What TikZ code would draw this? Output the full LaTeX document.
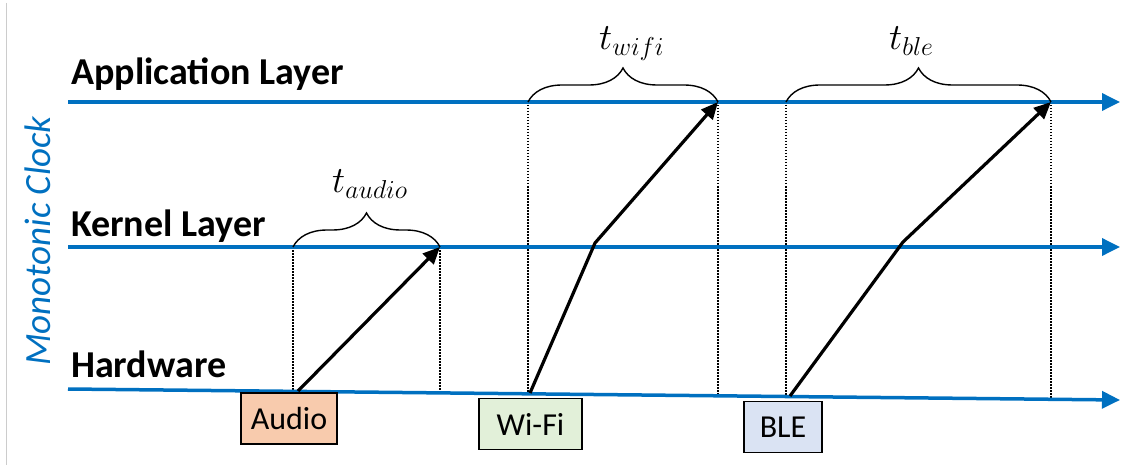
\documentclass[tikz,border=0pt]{standalone}
\usepackage{fix-cm}
\usepackage{fontspec}
\setmainfont{Carlito}
\usetikzlibrary{arrows.meta,decorations.pathreplacing}
\definecolor{clockblue}{HTML}{0070C0}
\definecolor{audiofill}{HTML}{F8CBAD}
\definecolor{wififill}{HTML}{E2F0D9}
\definecolor{blefill}{HTML}{DAE3F3}

\begin{document}
\begin{tikzpicture}[x=1pt,y=-1pt,
        layer/.style={anchor=base west, inner sep=0pt, font=\fontsize{38}{44}\selectfont\bfseries},
        timeline/.style={draw=clockblue, line width=3.5pt, -{Triangle[length=18pt,width=17pt]}},
        hop/.style={line width=3.2pt, -{Triangle[length=17pt,width=15pt]}},
        guide/.style={line width=1.3pt, dash pattern=on 1.5pt off 1.5pt},
        span/.style={decorate, decoration={brace, amplitude=34pt}, line width=1.4pt},
        delay/.style={anchor=base west, inner sep=0pt, font=\fontsize{37}{43}\selectfont},
        device/.style={draw, line width=1.3pt, inner sep=0pt, minimum height=51pt, font=\fontsize{32}{38}\selectfont}]
        \useasboundingbox (0,0) rectangle (1121,465);
        \draw[gray!40, line width=1pt] (6,3) -- (6,465);

        % layers
        \node (applabel) [layer] at (71,85) {Application Layer};
        \node (kernlabel) [layer] at (71,236) {Kernel Layer};
        \node (hwlabel) [layer] at (71,377) {Hardware};
        \node (clocklabel) [rotate=90, text=clockblue, font=\fontsize{37}{44}\selectfont\itshape] at (38,241) {Monotonic Clock};

        \coordinate (app-start) at (68,102);
        \coordinate (app-end) at (1120,102);
        \coordinate (kern-start) at (68,247);
        \coordinate (kern-end) at (1120,247);
        \coordinate (hw-start) at (68,389);
        \coordinate (hw-end) at (1120,400);

        % time points
        \coordinate (aud-k0) at (293,247);
        \coordinate (aud-k1) at (440,247);
        \coordinate (aud-h0) at (293,391.4);
        \coordinate (aud-h1) at (440,392.9);
        \coordinate (wifi-a0) at (528,102);
        \coordinate (wifi-a1) at (718,102);
        \coordinate (wifi-h0) at (528,393.8);
        \coordinate (wifi-h1) at (718,395.8);
        \coordinate (ble-a0) at (786,102);
        \coordinate (ble-a1) at (1051,102);
        \coordinate (ble-h0) at (786,396.5);
        \coordinate (ble-h1) at (1051,399.3);

        \draw[guide] (aud-k0) -- (aud-h0);
        \draw[guide] (aud-k1) -- (aud-h1);
        \draw[guide] (wifi-a0) -- (wifi-h0);
        \draw[guide] (wifi-a1) -- (wifi-h1);
        \draw[guide] (ble-a0) -- (ble-h0);
        \draw[guide] (ble-a1) -- (ble-h1);

        \draw[timeline] (app-start) -- (app-end);
        \draw[timeline] (kern-start) -- (kern-end);
        \draw[timeline] (hw-start) -- (hw-end);

        % braces
        \draw[span] (aud-k0) -- (aud-k1);
        \draw[span] (wifi-a0) -- (wifi-a1);
        \draw[span] (ble-a0) -- (ble-a1);
        \node (taudio) [delay] at (332,193) {$t_{audio}$};
        \node (twifi) [delay] at (599,50) {$t_{wifi}$};
        \node (tble) [delay] at (889,50) {$t_{ble}$};

        % devices
        \node (audio) [device, fill=audiofill, minimum width=96pt] at (289,418.5) {Audio};
        \node (wifi) [device, fill=wififill, minimum width=103pt] at (530.5,424) {Wi-Fi};
        \node (ble) [device, fill=blefill, minimum width=78pt] at (783,427) {BLE};

        \coordinate (aud-go) at (298,391);
        \coordinate (wifi-go) at (530,393);
        \coordinate (wifi-mid) at (595,243);
        \coordinate (ble-go) at (790,396);
        \coordinate (ble-mid) at (903,242);

        \draw[hop] (aud-go) -- (aud-k1);
        \draw[hop] (wifi-go) -- (wifi-mid) -- (wifi-a1);
        \draw[hop] (ble-go) -- (ble-mid) -- (ble-a1);
    \end{tikzpicture}
\end{document}
